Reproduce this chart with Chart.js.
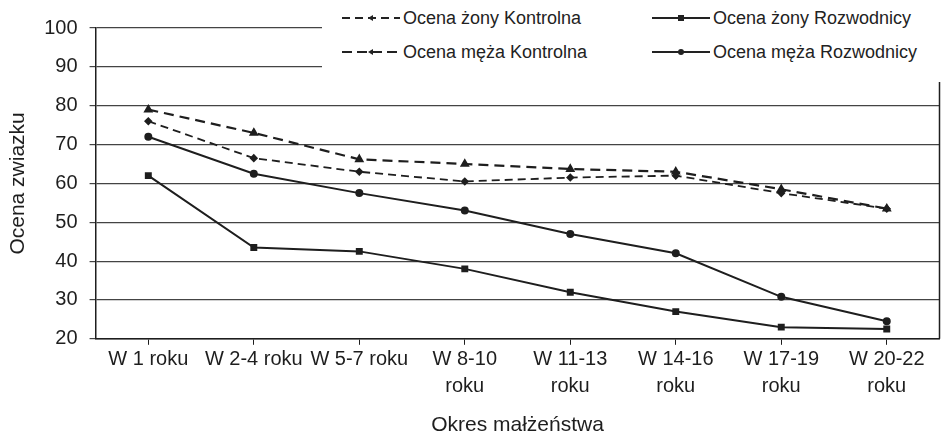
<!DOCTYPE html>
<html>
<head>
<meta charset="utf-8">
<script src="https://cdn.jsdelivr.net/npm/chart.js@4/dist/chart.umd.min.js"></script>
<style>
body{margin:0;background:#fff}
#wrap{position:relative;width:941px;height:438px}
#legend{position:absolute;left:322px;top:0;width:619px;height:82px;background:#fff;font:18px "Liberation Sans",Arial,sans-serif;color:#222}
.item{position:absolute;display:flex;align-items:center;white-space:nowrap;height:24px}
.item svg{margin-right:3px}
</style>
</head>
<body>
<div id="wrap">
  <canvas id="chart" width="941" height="438"></canvas>
  <div id="legend"></div>
</div>
<script>
// okresy malzenstwa
var labels = ['W 1 roku', 'W 2-4 roku', 'W 5-7 roku', ['W 8-10', 'roku'], ['W 11-13', 'roku'],
  ['W 14-16', 'roku'], ['W 17-19', 'roku'], ['W 20-22', 'roku']];

var zonyKontrolna   = [76, 66.5, 63, 60.5, 61.5, 62, 57.5, 53.5];
var mezaKontrolna   = [79, 73, 66.2, 65, 63.7, 63, 58.5, 53.5];
var zonyRozwodnicy  = [62, 43.5, 42.5, 38, 32, 27, 23, 22.5];
var mezaRozwodnicy  = [72, 62.5, 57.5, 53, 47, 42, 30.8, 24.5];

var yTicks = [20, 30, 40, 50, 60, 70, 80, 90, 100];

var ink = '#1e1e1e';
var fam = '"Liberation Sans", Arial, sans-serif';

var datasets = [
  {label: 'Ocena żony Kontrolna', data: zonyKontrolna, borderColor: ink, backgroundColor: ink,
    borderWidth: 1.8, borderDash: [8, 5], pointStyle: 'rectRot', pointRadius: 3},
  {label: 'Ocena żony Rozwodnicy', data: zonyRozwodnicy, borderColor: ink, backgroundColor: ink,
    borderWidth: 2, pointStyle: 'rect', pointRadius: 3.5},
  {label: 'Ocena męża Kontrolna', data: mezaKontrolna, borderColor: ink, backgroundColor: ink,
    borderWidth: 2.2, borderDash: [10, 6], pointStyle: 'triangle', pointRadius: 3.5},
  {label: 'Ocena męża Rozwodnicy', data: mezaRozwodnicy, borderColor: ink, backgroundColor: ink,
    borderWidth: 2, pointStyle: 'circle', pointRadius: 3}
];

// legenda w html, 2 kolumny
var legendPos = [[20, 6], [330, 6], [20, 40], [330, 40]];
var leg = document.getElementById('legend');
datasets.forEach(function(ds, i){
  var dash = ds.borderDash ? 'stroke-dasharray="' + (i == 2 ? '10 5' : '8 5') + '"' : '';
  var mk = '';
  if (ds.pointStyle == 'rect') mk = '<rect x="26" y="8" width="6" height="6" fill="#222"/>';
  else if (ds.pointStyle == 'circle') mk = '<circle cx="29" cy="11" r="3" fill="#222"/>';
  else mk = '<polygon points="26,11 31,8 31,14" fill="#222"/>';
  var svg = '<svg width="58" height="22"><line x1="0" y1="11" x2="58" y2="11" stroke="#222" stroke-width="' +
    ds.borderWidth + '" ' + dash + '/>' + mk + '</svg>';
  var d = document.createElement('div');
  d.className = 'item';
  d.style.left = legendPos[i][0] + 'px';
  d.style.top = legendPos[i][1] + 'px';
  d.innerHTML = svg + '<span>' + ds.label + '</span>';
  leg.appendChild(d);
});

// prawa krawedz obszaru wykresu
var rightBorder = {
  id: 'rightBorder',
  afterDraw: function(chart){
    var a = chart.chartArea, c = chart.ctx;
    c.save();
    c.strokeStyle = ink;
    c.lineWidth = 1.5;
    c.beginPath();
    c.moveTo(a.right, a.top);
    c.lineTo(a.right, a.bottom);
    c.stroke();
    c.restore();
  }
};

var ctx = document.getElementById('chart');
var chart = new Chart(ctx, {
  type: 'line',
  data: {labels: labels, datasets: datasets},
  plugins: [rightBorder],
  options: {
    responsive: false,
    animation: false,
    layout: {autoPadding: false, padding: {top: 28, right: 1.5, left: 6, bottom: 0}},
    plugins: {legend: {display: false}, tooltip: {enabled: false}},
    scales: {
      x: {
        offset: true,
        grid: {drawOnChartArea: false, color: ink, tickLength: 6},
        border: {color: ink, width: 1.5},
        ticks: {maxRotation: 0, autoSkip: false, color: ink, font: {family: fam, size: 20, lineHeight: 1.35}, padding: 1},
        title: {display: true, text: 'Okres małżeństwa', color: ink, font: {family: fam, size: 21}, padding: {top: 12, bottom: 0}}
      },
      y: {
        min: 20, max: 100,
        afterBuildTicks: function(axis){ axis.ticks = yTicks.map(function(v){ return {value: v}; }); },
        grid: {color: '#444', lineWidth: 1.2, tickLength: 6},
        border: {color: ink, width: 1.5},
        ticks: {color: ink, font: {family: fam, size: 20}, padding: 12},
        title: {display: true, text: 'Ocena zwiazku', color: ink, font: {family: fam, size: 21}, padding: {top: 0, bottom: 1}}
      }
    }
  }
});
</script>
</body>
</html>
